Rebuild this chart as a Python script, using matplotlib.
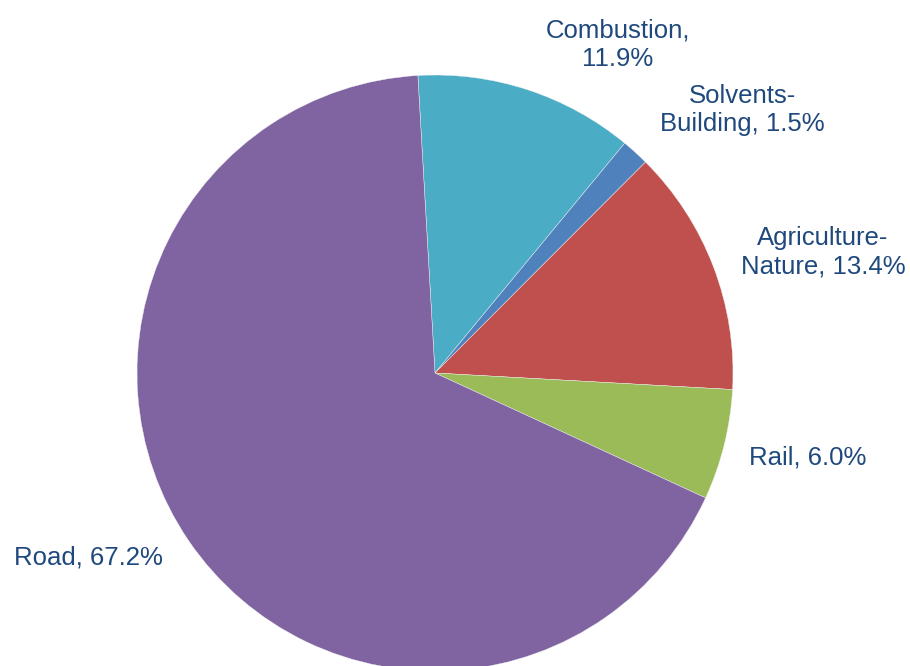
import matplotlib
matplotlib.use("Agg")
import matplotlib.pyplot as plt

# emission shares by source (percent), clockwise from the top
sources = ["Combustion", "Solvents-Building", "Agriculture-Nature", "Rail", "Road"]
shares = [11.9, 1.5, 13.4, 6.0, 67.2]
label_texts = ["Combustion,\n11.9%", "Solvents-\nBuilding, 1.5%",
               "Agriculture-\nNature, 13.4%", "Rail, 6.0%", "Road, 67.2%"]
colors = ["#4BACC6", "#4F81BD", "#C0504D", "#9BBB59", "#8064A2"]

# label anchor points in figure pixels (x, y from top)
label_xy = [(618, 45), (742, 110), (823, 252), (808, 458), (88, 558)]

W, H = 910, 666
fig = plt.figure(figsize=(W / 100, H / 100), dpi=100)
ax = fig.add_axes([0, 0, 1, 1])

ax.pie(shares, colors=colors, startangle=93.3, counterclock=False,
       center=(435, H - 373), radius=298, frame=True,
       wedgeprops=dict(edgecolor="#f2f2f2", linewidth=0.3))
ax.set_xlim(0, W)
ax.set_ylim(0, H)
ax.set_aspect("equal")
ax.axis("off")

for txt, (x, y) in zip(label_texts, label_xy):
    ax.text(x, H - y, txt, ha="center", va="center", multialignment="center",
            fontsize=18.5, family="Liberation Sans", color="#1F497D",
            linespacing=1.25)

fig.savefig("out.png", dpi=100)
